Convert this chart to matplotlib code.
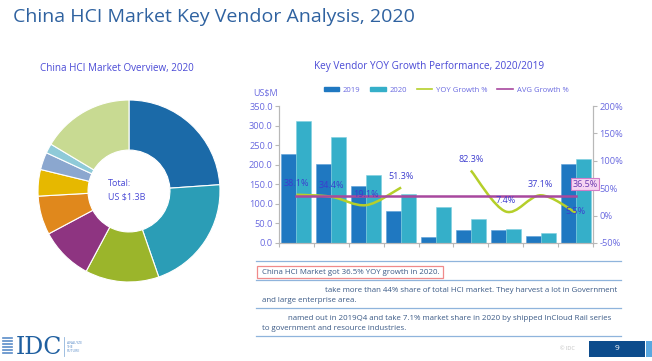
import numpy as np
import matplotlib
matplotlib.use('Agg')
import matplotlib.pyplot as plt
from matplotlib.path import Path
from matplotlib.patches import PathPatch, Rectangle
from matplotlib.lines import Line2D

plt.rcParams['font.family'] = ['Open Sans', 'DejaVu Sans']

# ---- data ----
share_pct = [23.9, 20.8, 13.1, 9.4, 6.9, 4.7, 3.1, 1.7, 16.4]
share_colors = ['#1b6aa8', '#2b9db6', '#9bb52b', '#8e3481', '#e0881c',
                '#e6b800', '#8ba7cf', '#8fcad8', '#c8da92']

sales_2019 = [227, 202, 145, 82, 16, 34, 32, 19, 203]
sales_2020 = [312, 272, 173, 125, 92, 62, 35, 25, 215]
yoy_growth = [38.1, 34.4, 19.1, 51.3, np.nan, 82.3, 7.4, 37.1, 5.5]
avg_growth = 36.5

W, H = 652, 361
def fx(px):
    return px / W
def fy(py):
    return 1 - py / H

fig = plt.figure(figsize=(6.52, 3.61), dpi=100)
fig.patch.set_facecolor('white')

title_blue = '#2f62a0'
label_blue = '#4a4ad6'
text_blue = '#3b5a86'

fig.text(fx(13), fy(17), 'China HCI Market Key Vendor Analysis, 2020',
         fontsize=14, color=title_blue, va='center', ha='left')

# ---- donut ----
axp = fig.add_axes([fx(129 - 95), fy(191 + 95), 190 / W, 190 / H])
axp.pie(share_pct, colors=share_colors, startangle=90, counterclock=False,
        wedgeprops=dict(width=0.55, edgecolor='white', linewidth=0.8))
axp.set_xlim(-1.044, 1.044)
axp.set_ylim(-1.044, 1.044)
axp.set_aspect('equal')
axp.axis('off')

fig.text(fx(117), fy(69), 'China HCI Market Overview, 2020', fontsize=7.1,
         color=label_blue, ha='center', va='center')
fig.text(fx(108), fy(184), 'Total:', fontsize=6.5, color=label_blue,
         ha='left', va='center')
fig.text(fx(108), fy(197), 'US $1.3B', fontsize=6.5, color=label_blue,
         ha='left', va='center')

# ---- bar + line chart ----
ax = fig.add_axes([fx(279), fy(243), (593 - 279) / W, (243 - 106) / H])
ax2 = ax.twinx()
x = np.arange(len(sales_2019))
bw = 0.43
ax.bar(x - bw / 2, sales_2019, bw, color='#1f78c1', edgecolor='#5aa0d8',
       linewidth=0.4, zorder=2)
ax.bar(x + bw / 2, sales_2020, bw, color='#35afc9', edgecolor='#7fd0e0',
       linewidth=0.4, zorder=2)
ax.set_xlim(-0.5, len(x) - 0.5)
ax.set_ylim(0, 350)
ax.set_yticks(np.arange(0, 351, 50))
ax.set_yticklabels(['%.1f' % v for v in np.arange(0, 351, 50)])
ax.set_xticks(np.arange(-0.5, len(x), 1))
ax.set_xticklabels([])
ax2.set_ylim(-50, 200)
ax2.set_yticks(np.arange(-50, 201, 50))
ax2.set_yticklabels(['%d%%' % v for v in np.arange(-50, 201, 50)])

for a in (ax, ax2):
    for s in a.spines.values():
        s.set_color('#b8b8b8')
        s.set_linewidth(0.8)
    a.spines['top'].set_visible(False)
    a.tick_params(colors='#b8b8b8', labelcolor='#6a6ae0', labelsize=6.7,
                  length=3, width=0.8, pad=1.5)
ax.set_zorder(1)
ax2.set_zorder(2)
ax.patch.set_visible(False)


def smooth_path(xs, ys):
    pts = np.column_stack([xs, ys])
    n = len(pts)
    verts = [tuple(pts[0])]
    codes = [Path.MOVETO]
    for i in range(n - 1):
        p0 = pts[i - 1] if i > 0 else pts[i]
        p1 = pts[i]
        p2 = pts[i + 1]
        p3 = pts[i + 2] if i + 2 < n else pts[i + 1]
        c1 = p1 + (p2 - p0) / 6
        c2 = p2 - (p3 - p1) / 6
        verts += [tuple(c1), tuple(c2), tuple(p2)]
        codes += [Path.CURVE4] * 3
    return Path(verts, codes)


g = np.array(yoy_growth)
valid = ~np.isnan(g)
segs = []
cur = []
for i in range(len(g)):
    if valid[i]:
        cur.append(i)
    else:
        if cur:
            segs.append(cur)
        cur = []
if cur:
    segs.append(cur)
for sg in segs:
    p = smooth_path(x[sg], g[sg])
    ax2.add_patch(PathPatch(p, fill=False, edgecolor='#b5cf2a', lw=1.8,
                            zorder=3))

ax2.plot([x[0], x[-1]], [avg_growth, avg_growth], color='#a8489e', lw=1.8,
         zorder=4)

for i in range(len(g)):
    if valid[i]:
        off = 2 if i == len(g) - 1 else 20
        ax2.text(x[i], g[i] + off, '%.1f%%' % g[i], fontsize=6.5,
                 color='#3c3ccf', ha='center', va='center', zorder=5)
ax2.text(x[-1] + 0.27, avg_growth + 21, '%.1f%%' % avg_growth, fontsize=6.5,
         color='#6a3ab0', ha='center', va='center', zorder=6,
         bbox=dict(boxstyle='square,pad=0.2', fc='#f6d4f2', ec='#d27cc8',
                   lw=0.8))

fig.text(fx(253), fy(93), 'US$M', fontsize=6.5, color='#6a6ae0',
         ha='left', va='center')
fig.text(fx(429), fy(66), 'Key Vendor YOY Growth Performance, 2020/2019',
         fontsize=7.2, color=label_blue, ha='center', va='center')

handles = [Rectangle((0, 0), 1, 1, color='#1f78c1'),
           Rectangle((0, 0), 1, 1, color='#35afc9'),
           Line2D([], [], color='#b5cf2a', lw=1.2),
           Line2D([], [], color='#a8489e', lw=1.2)]
leg = fig.legend(handles, ['2019', '2020', 'YOY Growth %', 'AVG Growth %'],
                 loc='center', bbox_to_anchor=(fx(446), fy(90)), ncol=4,
                 frameon=False, fontsize=5.5, handlelength=2.0,
                 handleheight=0.5, columnspacing=1.3, handletextpad=0.5)
for t in leg.get_texts():
    t.set_color('#6a6ae0')

# ---- comment box ----
line_c = '#8fb4dc'
for yy in [261, 280, 308, 336]:
    fig.add_artist(Line2D([fx(256), fx(621)], [fy(yy), fy(yy)], color=line_c,
                          lw=0.9))
fig.add_artist(Rectangle((fx(257), fy(278)), (443 - 257) / W, 12 / H,
                         fill=False, ec='#f08a8a', lw=0.9))
fs = 5.65
fig.text(fx(262), fy(272), 'China HCI Market got 36.5% YOY growth in 2020.',
         fontsize=fs, color=text_blue, va='center')
fig.text(fx(325), fy(290), 'take more than 44% share of total HCI market. '
         'They harvest a lot in Government', fontsize=fs, color=text_blue,
         va='center')
fig.text(fx(262), fy(300), 'and large enterprise area.', fontsize=fs,
         color=text_blue, va='center')
fig.text(fx(288), fy(318), 'named out in 2019Q4 and take 7.1% market share in '
         '2020 by shipped InCloud Rail series', fontsize=fs, color=text_blue,
         va='center')
fig.text(fx(262), fy(328), 'to government and resource industries.',
         fontsize=fs, color=text_blue, va='center')

# ---- footer ----
fig.text(fx(560), fy(349), '© IDC', fontsize=4, color='#c0c0c0',
         ha='left', va='center')
fig.add_artist(Rectangle((fx(589), fy(357)), (645 - 589) / W, 16 / H,
                         color='#0d4c8c', lw=0))
fig.add_artist(Rectangle((fx(646), fy(357)), 6 / W, 16 / H,
                         color='#5aa8e0', lw=0))
fig.text(fx(617), fy(348), '9', fontsize=6, color='white', ha='center',
         va='center')

# IDC logo
for k in range(6):
    fig.add_artist(Line2D([fx(3), fx(12)], [fy(338 + k * 3), fy(338 + k * 3)],
                          color='#5a8cc8', lw=1.2))
fig.text(fx(16), fy(347), 'IDC', fontsize=17, family='DejaVu Serif',
         color='#1f5fa0', ha='left', va='center')
fig.add_artist(Line2D([fx(64), fx(64)], [fy(337), fy(356)], color='#8fb4dc',
                      lw=0.6))
fig.text(fx(67), fy(347), 'ANALYZE\nTHE\nFUTURE', fontsize=2.5,
         color='#5a8cc8', ha='left', va='center', linespacing=1.1)

fig.savefig('out.png', dpi=100)
